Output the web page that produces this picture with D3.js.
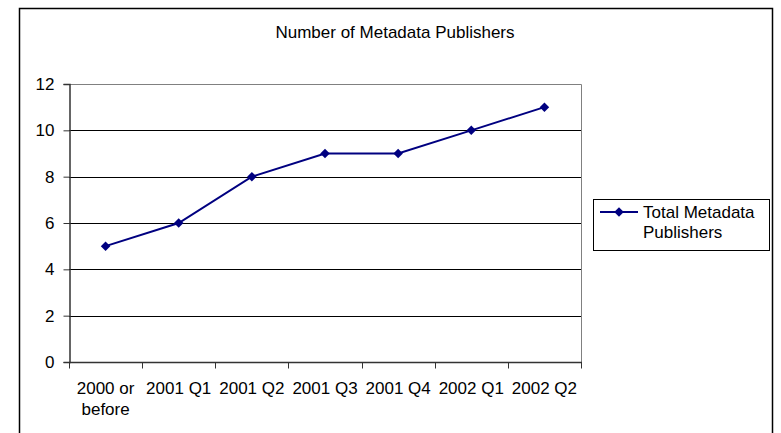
<!DOCTYPE html>
<html>
<head>
<meta charset="utf-8">
<script src="https://cdn.jsdelivr.net/npm/d3@7"></script>
<style>
	body { margin: 0; background: #fff; }
	svg { display: block; font-family: "Liberation Sans", Arial, sans-serif; }
</style>
</head>
<body>
<div id="chart"></div>
<script>
const categories = ["2000 or before", "2001 Q1", "2001 Q2", "2001 Q3", "2001 Q4", "2002 Q1", "2002 Q2"];
const publishers = [5, 6, 8, 9, 9, 10, 11];
const yTicks = [0, 2, 4, 6, 8, 10, 12];
const seriesName = ["Total Metadata", "Publishers"];
const chartTitle = "Number of Metadata Publishers";

const w = 781, h = 433;
const plot = { left: 69, right: 581, top: 84, bottom: 362 };
const navy = "#000080";

let svg = d3.select("#chart").append("svg")
	.attr("width", w)
	.attr("height", h);

// outer chart border (runs off the bottom of the picture)
svg.append("rect")
	.attr("x", 19.5).attr("y", 8.5)
	.attr("width", 753).attr("height", 440)
	.attr("fill", "white")
	.attr("stroke", "black")
	.attr("stroke-width", 1.5);

svg.append("text")
	.attr("x", 395).attr("y", 38)
	.attr("text-anchor", "middle")
	.attr("font-size", 17)
	.text(chartTitle);

let x = d3.scaleBand()
	.domain(categories)
	.range([plot.left, plot.right])
	.padding(0);

let y = d3.scaleLinear()
	.domain([0, 12])
	.range([plot.bottom, plot.top]);

// gridlines
svg.append("g")
	.selectAll("line")
	.data(yTicks.filter((d) => { return d > 0 && d < 12; }))
	.enter().append("line")
	.attr("x1", plot.left).attr("x2", plot.right)
	.attr("y1", (d) => { return Math.round(y(d)) + 0.5; })
	.attr("y2", (d) => { return Math.round(y(d)) + 0.5; })
	.attr("stroke", "#000")
	.attr("stroke-width", 1);

// plot area border (top and right, grey)
svg.append("path")
	.attr("d", "M" + plot.left + "," + (y(12) + 0.5) + "H" + (plot.right + 0.5) + "V" + plot.bottom)
	.attr("fill", "none")
	.attr("stroke", "#808080")
	.attr("stroke-width", 1);

// y axis
let yAxis = svg.append("g")
	.attr("transform", "translate(" + (plot.left + 0.5) + ",0)")
	.call(d3.axisLeft(y).tickValues(yTicks).tickSize(6).tickPadding(9).tickFormat(d3.format("d")));
yAxis.select(".domain").attr("stroke", "#333").attr("stroke-width", 1.5);
yAxis.selectAll(".tick line").attr("stroke", "#333");
yAxis.selectAll("text").attr("font-size", 17).attr("font-family", "Liberation Sans, Arial, sans-serif").attr("fill", "#000");

// x axis: ticks sit on category boundaries
let xAxisG = svg.append("g")
	.attr("transform", "translate(0," + (plot.bottom + 0.5) + ")");
xAxisG.append("line")
	.attr("x1", plot.left).attr("x2", plot.right + 1)
	.attr("stroke", "#333").attr("stroke-width", 1.5);
let boundaries = categories.map((c) => { return x(c); }).concat([x(categories[categories.length - 1]) + x.bandwidth()]);
xAxisG.selectAll(".xtick")
	.data(boundaries)
	.enter().append("line")
	.attr("class", "xtick")
	.attr("x1", (d) => { return Math.round(d) + 0.5; })
	.attr("x2", (d) => { return Math.round(d) + 0.5; })
	.attr("y1", 0).attr("y2", 6)
	.attr("stroke", "#333");

let labels = xAxisG.selectAll(".xlabel")
	.data(categories)
	.enter().append("text")
	.attr("class", "xlabel")
	.attr("text-anchor", "middle")
	.attr("font-size", 17)
	.attr("y", 31);

// wrap labels wider than a band
labels.each(function (d) {
	let t = d3.select(this);
	let cx = x(d) + x.bandwidth() / 2;
	t.text(d);
	if (this.getComputedTextLength() > x.bandwidth() - 4) {
		let words = d.split(" ");
		let first = words.slice(0, 2).join(" ");
		let rest = words.slice(2).join(" ");
		t.text(null);
		t.append("tspan").attr("x", cx).attr("dy", 0).text(first);
		t.append("tspan").attr("x", cx).attr("dy", 21).text(rest);
	} else {
		t.attr("x", cx);
	}
});

// series line
let line = d3.line()
	.x((d, i) => { return x(categories[i]) + x.bandwidth() / 2; })
	.y((d) => { return y(d); });

svg.append("path")
	.datum(publishers)
	.attr("d", line)
	.attr("fill", "none")
	.attr("stroke", navy)
	.attr("stroke-width", 2);

let diamond = d3.symbol().type(d3.symbolSquare).size(45);
svg.selectAll(".marker")
	.data(publishers)
	.enter().append("path")
	.attr("class", "marker")
	.attr("d", diamond)
	.attr("transform", (d, i) => { return "translate(" + (x(categories[i]) + x.bandwidth() / 2) + "," + y(d) + ") rotate(45)"; })
	.attr("fill", navy);

// legend
let legend = svg.append("g");
legend.append("rect")
	.attr("x", 593.5).attr("y", 199.5)
	.attr("width", 176).attr("height", 51)
	.attr("fill", "white")
	.attr("stroke", "#000")
	.attr("stroke-width", 1);
legend.append("line")
	.attr("x1", 600).attr("x2", 638)
	.attr("y1", 212).attr("y2", 212)
	.attr("stroke", navy).attr("stroke-width", 2);
legend.append("path")
	.attr("d", diamond)
	.attr("transform", "translate(619,212) rotate(45)")
	.attr("fill", navy);
legend.selectAll(".ltext")
	.data(seriesName)
	.enter().append("text")
	.attr("x", 643)
	.attr("y", (d, i) => { return 218 + i * 20; })
	.attr("font-size", 17)
	.text((d) => { return d; });
</script>
</body>
</html>
